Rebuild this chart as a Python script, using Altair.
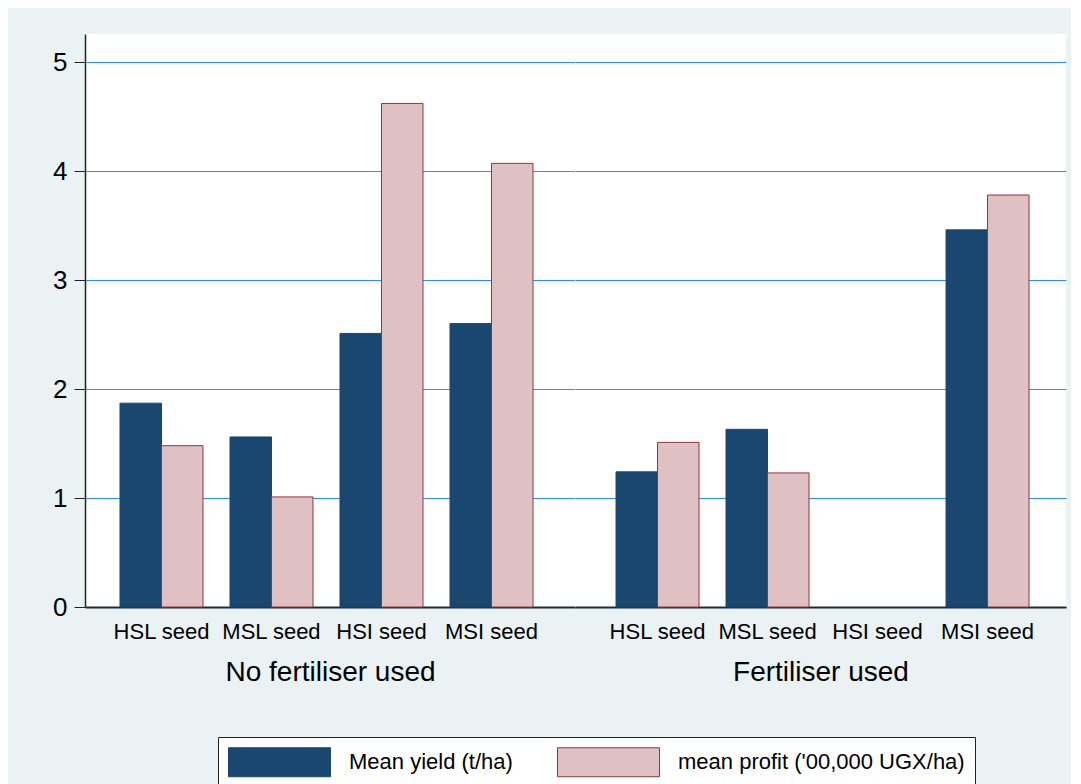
import altair as alt
import pandas as pd

groups = ["No fertiliser used", "Fertiliser used"]
seeds = ["HSL seed", "MSL seed", "HSI seed", "MSI seed"]
series = ["Mean yield (t/ha)", "mean profit ('00,000 UGX/ha)"]

yield_nofert = [1.87, 1.56, 2.51, 2.60]
profit_nofert = [1.48, 1.01, 4.62, 4.07]
yield_fert = [1.24, 1.63, None, 3.46]
profit_fert = [1.51, 1.23, None, 3.78]

rows = []
for g, ys, ps in [(groups[0], yield_nofert, profit_nofert), (groups[1], yield_fert, profit_fert)]:
    for s, yv, pv in zip(seeds, ys, ps):
        rows.append({"group": g, "seed": s, "series": series[0], "value": yv})
        rows.append({"group": g, "seed": s, "series": series[1], "value": pv})
df = pd.DataFrame(rows).dropna()

NAVY = "#1A476F"
PINK = "#DFC1C4"
MAROON = "#90353B"
GRID = "#2B8CFF"
DARK = "#222222"
FONT = "Liberation Sans"

H = 573
ydomain = [0, 5.257]

# swatch: 29px tall (layout size), drawn 102px wide extending to the right
legend = alt.Legend(
    title=None,
    orient="none",
    legendX=133,
    legendY=703,
    direction="horizontal",
    columns=2,
    symbolType="M-1,-1L6.034,-1L6.034,1L-1,1Z",
    symbolSize=841,
    symbolStrokeWidth=1,
    labelFontSize=22,
    labelFont=FONT,
    labelColor="#000000",
    labelLimit=500,
    labelOffset=91,
    columnPadding=42,
    padding=10,
    strokeColor=DARK,
    fillColor="white",
)


def panel(gname, show_y, width, align, pouter):
    yaxis = alt.Axis(
        values=[0, 1, 2, 3, 4, 5],
        title=None,
        grid=True,
        gridColor=GRID,
        gridWidth=1.2,
        labels=show_y,
        ticks=show_y,
        domain=show_y,
        tickSize=11,
        tickColor=DARK,
        domainColor=DARK,
        domainWidth=1.5,
        labelFontSize=26,
        labelFont=FONT,
        labelColor="#000000",
        labelPadding=7,
    )
    xaxis = alt.Axis(
        title=gname,
        labelAngle=0,
        ticks=False,
        domain=True,
        domainColor="#1c2c3c",
        domainWidth=2,
        labelFontSize=22,
        labelFont=FONT,
        labelColor="#000000",
        labelPadding=14,
        titleFontSize=28,
        titleFont=FONT,
        titleFontWeight="normal",
        titleColor="#000000",
        titlePadding=16,
        labelLimit=300,
    )
    return (
        alt.Chart(df)
        .transform_filter(alt.datum.group == gname)
        .mark_bar(strokeWidth=1)
        .encode(
            x=alt.X(
                "seed:N",
                sort=seeds,
                scale=alt.Scale(domain=seeds, paddingInner=0.2455, paddingOuter=pouter, align=align),
                axis=xaxis,
            ),
            xOffset=alt.XOffset("series:N", sort=series, scale=alt.Scale(domain=series, paddingInner=0, paddingOuter=0)),
            y=alt.Y("value:Q", scale=alt.Scale(domain=ydomain, nice=False, zero=True), axis=yaxis),
            color=alt.Color("series:N", sort=series, scale=alt.Scale(domain=series, range=[NAVY, PINK]), legend=legend),
            stroke=alt.Stroke("series:N", sort=series, scale=alt.Scale(domain=series, range=[NAVY, MAROON]), legend=legend),
        )
        .properties(width=width, height=H)
    )


left = panel(groups[0], True, 490, 0.4545, 0.35)
right = panel(groups[1], False, 491, 0.526, 0.3545)

chart = (
    alt.hconcat(left, right, spacing=0)
    .properties(
        background="#EAF2F3",
        padding={"left": 44, "top": 26, "right": 5, "bottom": 0},
    )
    .configure_view(fill="white", strokeWidth=0)
    .configure_concat(spacing=0)
)

chart.save("out.html", embed_options={"renderer": "svg", "actions": False})
